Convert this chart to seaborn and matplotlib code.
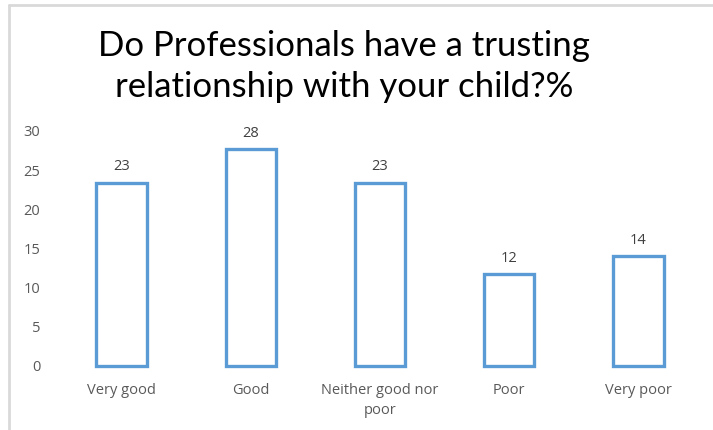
import matplotlib
matplotlib.use("Agg")
import matplotlib.pyplot as plt
import seaborn as sns
import pandas as pd
from matplotlib.lines import Line2D

categories = ["Very good", "Good", "Neither good nor\npoor", "Poor", "Very poor"]
values = [23.4, 27.7, 23.4, 11.7, 14.0]
yticks = [0, 5, 10, 15, 20, 25, 30]

title = "Do Professionals have a trusting\nrelationship with your child?%"


def main():
    sns.set_style("white")
    plt.rcParams["font.family"] = ["Open Sans", "DejaVu Sans"]

    df = pd.DataFrame({"category": categories, "value": values})

    fig = plt.figure(figsize=(7.13, 4.30), dpi=100)
    ax = fig.add_axes([0.08, 0.149, 0.906, 0.5465])

    sns.barplot(data=df, x="category", y="value", ax=ax, color="white",
                edgecolor="#5B9BD5", linewidth=2.4, width=0.39, saturation=1)
    for p in ax.patches:
        p.set_clip_on(False)

    for cont in ax.containers:
        ax.bar_label(cont, fmt="%.0f", padding=6, fontsize=10.5, color="#404040")

    ax.set_ylim(0, 30)
    ax.set_yticks(yticks)
    ax.set_xlim(-0.5, len(categories) - 0.5)
    ax.set_xlabel("")
    ax.set_ylabel("")
    ax.tick_params(axis="y", length=0, pad=12, labelsize=10.5, labelcolor="#595959")
    ax.tick_params(axis="x", length=0, pad=12, labelsize=10.5, labelcolor="#595959")
    for lbl in ax.get_xticklabels():
        lbl.set_linespacing(1.5)
    for s in ax.spines.values():
        s.set_visible(False)

    fig.text(0.483, 0.845, title, ha="center", va="center", fontsize=25,
             family=["Lato", "DejaVu Sans"], color="black", linespacing=1.33)

    # outer frame of the chart area
    fig.add_artist(Line2D([9 / 713, 1], [1 - 5 / 430, 1 - 5 / 430], color="#D9D9D9", lw=2))
    fig.add_artist(Line2D([9 / 713, 9 / 713], [0, 1 - 5 / 430], color="#D9D9D9", lw=2))

    fig.savefig("out.png", dpi=100)


if __name__ == "__main__":
    main()
